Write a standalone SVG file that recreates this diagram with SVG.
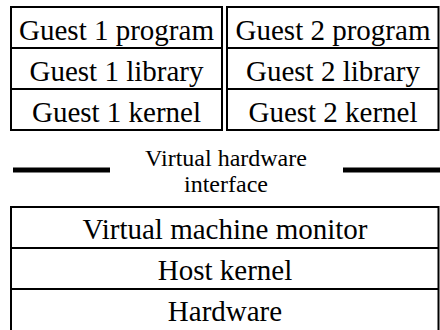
<svg xmlns="http://www.w3.org/2000/svg" width="440" height="330" viewBox="0 0 440 330">
  <style>
    .box { fill: #ffffff; stroke: #000000; stroke-width: 2; }
    .div { stroke: #000000; stroke-width: 2; }
    text { font-family: 'Liberation Serif', 'DejaVu Serif', serif; fill: #000000; text-anchor: middle; }
    .lbl { font-size: 29px; }
    .note { font-size: 24px; }
    .bar { stroke: #000000; stroke-width: 5; }
  </style>
  <rect width="440" height="330" fill="#ffffff"/>

  <!-- Guest 1 stack -->
  <g id="guest1">
    <rect class="box" x="11" y="7" width="211" height="123"/>
    <line class="div" x1="11" y1="48" x2="222" y2="48"/>
    <line class="div" x1="11" y1="89" x2="222" y2="89"/>
    <text class="lbl" font-family="Liberation Serif, DejaVu Serif, serif" x="116.5" y="40">Guest 1 program</text>
    <text class="lbl" font-family="Liberation Serif, DejaVu Serif, serif" x="116.5" y="81">Guest 1 library</text>
    <text class="lbl" font-family="Liberation Serif, DejaVu Serif, serif" x="116.5" y="122">Guest 1 kernel</text>
  </g>

  <!-- Guest 2 stack -->
  <g id="guest2">
    <rect class="box" x="227" y="7" width="211.5" height="123"/>
    <line class="div" x1="227" y1="48" x2="438.5" y2="48"/>
    <line class="div" x1="227" y1="89" x2="438.5" y2="89"/>
    <text class="lbl" font-family="Liberation Serif, DejaVu Serif, serif" x="333" y="40">Guest 2 program</text>
    <text class="lbl" font-family="Liberation Serif, DejaVu Serif, serif" x="333" y="81">Guest 2 library</text>
    <text class="lbl" font-family="Liberation Serif, DejaVu Serif, serif" x="333" y="122">Guest 2 kernel</text>
  </g>

  <!-- Virtual hardware interface boundary -->
  <g id="interface">
    <line class="bar" x1="13" y1="170" x2="110" y2="170"/>
    <line class="bar" x1="343" y1="170" x2="440" y2="170"/>
    <text class="note" font-family="Liberation Serif, DejaVu Serif, serif" x="226" y="166">Virtual hardware</text>
    <text class="note" font-family="Liberation Serif, DejaVu Serif, serif" x="226" y="192">interface</text>
  </g>

  <!-- Host stack -->
  <g id="host">
    <rect class="box" x="11" y="207" width="427.5" height="130"/>
    <line class="div" x1="11" y1="248" x2="438.5" y2="248"/>
    <line class="div" x1="11" y1="289" x2="438.5" y2="289"/>
    <text class="lbl" font-family="Liberation Serif, DejaVu Serif, serif" x="225" y="239">Virtual machine monitor</text>
    <text class="lbl" font-family="Liberation Serif, DejaVu Serif, serif" x="225" y="280">Host kernel</text>
    <text class="lbl" font-family="Liberation Serif, DejaVu Serif, serif" x="225" y="321">Hardware</text>
  </g>
</svg>
